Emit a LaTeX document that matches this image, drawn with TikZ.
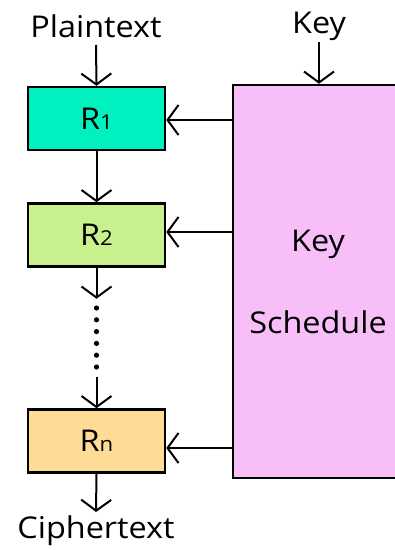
\documentclass[tikz,border=0pt]{standalone}
\usepackage{fontspec}
\setmainfont{Open Sans}[FakeStretch=1.08]
\usetikzlibrary{arrows.meta,calc}
\definecolor{rone}{HTML}{00F0C0}
\definecolor{rtwo}{HTML}{C8F08C}
\definecolor{rn}{HTML}{FFDC96}
\definecolor{ksc}{HTML}{F8BEF8}
\newcommand{\sub}[1]{{\fontsize{20.5}{20}\selectfont #1}}
\tikzset{
  rbox/.style={draw=black, line width=2.5pt, minimum width=137pt, minimum height=63pt, inner sep=0pt, font=\fontsize{30}{36}\selectfont},
  arr/.style={line width=2pt, -{Straight Barb[length=11pt,width=30pt,line width=2pt]}},
  lbl/.style={inner sep=0pt, anchor=base, font=\fontsize{30}{36}\selectfont}
}
\begin{document}
\begin{tikzpicture}[x=1pt,y=-1pt]
\useasboundingbox (0,0) rectangle (395,550);
\begin{scope}
\clip (0,0) rectangle (395,550);
\node[draw=black, line width=2.5pt, fill=ksc, minimum width=170pt, minimum height=393pt, inner sep=0pt, align=center, font=\fontsize{30}{82}\selectfont] (ks) at (318,281.5) {Key\\Schedule};
\end{scope}
\node[rbox, fill=rone] (r1) at (96.5,118.5) {R\sub{1}};
\node[rbox, fill=rtwo] (r2) at (96.5,235) {R\sub{2}};
\node[rbox, fill=rn] (r3) at (96.5,441) {R\sub{n}};
\node[lbl] (pt) at (96,37.5) {Plaintext};
\node[lbl] (key) at (319,33) {Key};
\node[lbl] (ct) at (96,538) {Ciphertext};
\draw[arr] (pt.south) ++(0,7) coordinate (p0) (p0) -- (r1.north);
\draw[arr] ($(key.base)+(0,9)$) -- (key.base |- ks.north);
\draw[arr] (r1.south) -- (r2.north);
\draw[arr] (r2.south) -- ++(0,31) coordinate (d0);
\foreach \y in {308,319.8,331.6,343.4,355.2,367}
  \fill (96.5,\y) circle (2.6pt);
\draw[arr] ($(r3.north)+(0,-31)$) -- (r3.north);
\draw[arr] (r3.south) -- ($(ct.base)+(0,-26)$);
\draw[arr] (ks.west |- 0,120) -- (r1.east |- 0,120);
\draw[arr] (ks.west |- 0,232) -- (r2.east |- 0,232);
\draw[arr] (ks.west |- 0,448) -- (r3.east |- 0,448);
\end{tikzpicture}
\end{document}
